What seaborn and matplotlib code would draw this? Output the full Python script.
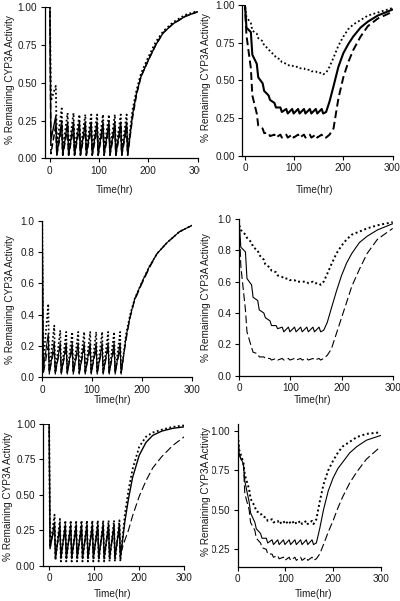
import matplotlib
matplotlib.use("Agg")
import matplotlib.pyplot as plt
from matplotlib.transforms import Bbox, TransformedBbox
import seaborn as sns

sns.set_style("ticks")
plt.rcParams["font.family"] = ["Liberation Sans", "DejaVu Sans"]

# ---------------- data ----------------
SAW_TIMES = [0, 2, 12, 14, 24, 26, 36, 38, 48, 50, 60, 62, 72, 74, 84, 86, 96, 98,
             108, 110, 120, 122, 132, 134, 144, 146, 156, 158]
REC_TIMES = [168, 176, 185, 200, 215, 230, 250, 275, 300]

p1_dot = [1.0, 0.38, 0.48, 0.08, 0.33, 0.06, 0.30, 0.05, 0.30, 0.05, 0.29, 0.05, 0.29, 0.05,
          0.29, 0.05, 0.29, 0.05, 0.29, 0.05, 0.29, 0.05, 0.29, 0.05, 0.29, 0.05, 0.29, 0.05,
          0.32, 0.45, 0.56, 0.67, 0.77, 0.84, 0.90, 0.95, 0.975]
p1_sol = [1.0, 0.12, 0.28, 0.02, 0.25, 0.02, 0.24, 0.02, 0.24, 0.02, 0.24, 0.02, 0.24, 0.02,
          0.24, 0.02, 0.24, 0.02, 0.24, 0.02, 0.24, 0.02, 0.24, 0.02, 0.24, 0.02, 0.24, 0.02,
          0.29, 0.43, 0.54, 0.65, 0.75, 0.83, 0.89, 0.94, 0.97]
p1_das = [1.0, 0.03, 0.22, 0.02, 0.21, 0.02, 0.20, 0.02, 0.20, 0.02, 0.20, 0.02, 0.20, 0.02,
          0.20, 0.02, 0.20, 0.02, 0.20, 0.02, 0.20, 0.02, 0.20, 0.02, 0.20, 0.02, 0.20, 0.02,
          0.27, 0.42, 0.54, 0.65, 0.75, 0.83, 0.89, 0.94, 0.97]

p3_dot = [1.0, 0.10, 0.47, 0.04, 0.33, 0.03, 0.30, 0.03, 0.29, 0.03, 0.29, 0.03, 0.29, 0.03,
          0.29, 0.03, 0.29, 0.03, 0.29, 0.03, 0.29, 0.03, 0.29, 0.03, 0.29, 0.03, 0.29, 0.03,
          0.28, 0.40, 0.50, 0.61, 0.71, 0.79, 0.86, 0.93, 0.97]
p3_sol = [1.0, 0.05, 0.28, 0.02, 0.23, 0.02, 0.22, 0.02, 0.22, 0.02, 0.22, 0.02, 0.22, 0.02,
          0.22, 0.02, 0.22, 0.02, 0.22, 0.02, 0.22, 0.02, 0.22, 0.02, 0.22, 0.02, 0.22, 0.02,
          0.26, 0.39, 0.50, 0.61, 0.71, 0.79, 0.86, 0.93, 0.97]
p3_das = [1.0, 0.02, 0.20, 0.03, 0.18, 0.03, 0.18, 0.03, 0.18, 0.03, 0.18, 0.03, 0.18, 0.03,
          0.18, 0.03, 0.18, 0.03, 0.18, 0.03, 0.18, 0.03, 0.18, 0.03, 0.18, 0.03, 0.18, 0.03,
          0.24, 0.38, 0.49, 0.60, 0.70, 0.79, 0.86, 0.93, 0.97]

p5_dot = [1.0, 0.13, 0.36, 0.04, 0.33, 0.03, 0.32, 0.03, 0.32, 0.03, 0.32, 0.03, 0.32, 0.03,
          0.32, 0.03, 0.32, 0.03, 0.32, 0.03, 0.32, 0.03, 0.32, 0.03, 0.32, 0.03, 0.32, 0.03,
          0.36, 0.53, 0.68, 0.84, 0.91, 0.94, 0.96, 0.98, 0.99]
p5_sol = [1.0, 0.12, 0.30, 0.05, 0.29, 0.05, 0.29, 0.05, 0.29, 0.05, 0.29, 0.05, 0.29, 0.05,
          0.29, 0.05, 0.29, 0.05, 0.29, 0.05, 0.29, 0.05, 0.29, 0.05, 0.29, 0.05, 0.29, 0.05,
          0.31, 0.47, 0.62, 0.78, 0.87, 0.92, 0.95, 0.97, 0.98]
p5_das = [1.0, 0.14, 0.26, 0.08, 0.25, 0.08, 0.25, 0.08, 0.25, 0.08, 0.25, 0.08, 0.25, 0.08,
          0.25, 0.08, 0.25, 0.08, 0.25, 0.08, 0.25, 0.08, 0.25, 0.08, 0.25, 0.08, 0.25, 0.08,
          0.18, 0.25, 0.35, 0.49, 0.60, 0.69, 0.77, 0.85, 0.91]

R_TIMES = [0, 3, 12, 15, 24, 27, 36, 39, 48, 51, 60, 63, 72, 75, 84, 87, 96, 99, 108, 111,
           120, 123, 132, 135, 144, 147, 156, 159, 165, 172, 180, 190, 200, 210, 220, 235,
           250, 270, 300]

p2_sol = [1.0, 0.85, 0.82, 0.67, 0.61, 0.52, 0.48, 0.43, 0.40, 0.37, 0.35, 0.32, 0.32, 0.29,
          0.31, 0.28, 0.31, 0.28, 0.31, 0.28, 0.31, 0.28, 0.31, 0.28, 0.31, 0.28, 0.31, 0.28,
          0.29, 0.36, 0.46, 0.59, 0.68, 0.74, 0.79, 0.85, 0.89, 0.93, 0.97]
p2_dot = [1.0, 0.92, 0.88, 0.83, 0.81, 0.78, 0.76, 0.73, 0.71, 0.69, 0.67, 0.65, 0.64, 0.62,
          0.61, 0.60, 0.60, 0.59, 0.59, 0.58, 0.58, 0.57, 0.57, 0.56, 0.56, 0.55, 0.55, 0.54,
          0.55, 0.59, 0.65, 0.73, 0.79, 0.84, 0.87, 0.90, 0.93, 0.95, 0.98]
p2_das = [1.0, 0.80, 0.58, 0.40, 0.28, 0.20, 0.18, 0.15, 0.15, 0.13, 0.14, 0.12, 0.14, 0.12,
          0.14, 0.12, 0.14, 0.12, 0.14, 0.12, 0.14, 0.12, 0.14, 0.12, 0.14, 0.12, 0.14, 0.12,
          0.12, 0.14, 0.18, 0.38, 0.52, 0.62, 0.70, 0.79, 0.86, 0.91, 0.955]

p4_sol = [0.97, 0.82, 0.79, 0.62, 0.58, 0.50, 0.48, 0.42, 0.40, 0.37, 0.35, 0.32, 0.32, 0.30,
          0.31, 0.28, 0.31, 0.28, 0.31, 0.28, 0.31, 0.28, 0.31, 0.28, 0.31, 0.28, 0.31, 0.28,
          0.29, 0.34, 0.43, 0.54, 0.64, 0.72, 0.78, 0.85, 0.89, 0.93, 0.97]
p4_dot = [0.96, 0.93, 0.90, 0.88, 0.85, 0.82, 0.80, 0.77, 0.74, 0.71, 0.69, 0.67, 0.66, 0.64,
          0.63, 0.62, 0.62, 0.61, 0.61, 0.60, 0.60, 0.60, 0.60, 0.59, 0.60, 0.59, 0.59, 0.58,
          0.60, 0.65, 0.71, 0.78, 0.83, 0.87, 0.90, 0.92, 0.94, 0.96, 0.98]
p4_das = [0.95, 0.70, 0.42, 0.28, 0.18, 0.15, 0.14, 0.12, 0.12, 0.11, 0.11, 0.10, 0.11, 0.10,
          0.11, 0.10, 0.11, 0.10, 0.11, 0.10, 0.11, 0.10, 0.11, 0.10, 0.11, 0.10, 0.11, 0.10,
          0.11, 0.13, 0.17, 0.27, 0.37, 0.47, 0.57, 0.68, 0.78, 0.87, 0.94]

p6_sol = [1.0, 0.85, 0.79, 0.68, 0.55, 0.48, 0.42, 0.38, 0.35, 0.32, 0.32, 0.29, 0.31, 0.28,
          0.31, 0.28, 0.31, 0.28, 0.31, 0.28, 0.31, 0.28, 0.31, 0.28, 0.31, 0.28, 0.31, 0.28,
          0.29, 0.38, 0.50, 0.62, 0.70, 0.76, 0.80, 0.86, 0.90, 0.94, 0.97]
p6_dot = [1.0, 0.88, 0.80, 0.72, 0.63, 0.57, 0.52, 0.49, 0.48, 0.46, 0.45, 0.43, 0.44, 0.42,
          0.43, 0.41, 0.43, 0.41, 0.43, 0.41, 0.43, 0.41, 0.43, 0.41, 0.43, 0.41, 0.43, 0.41,
          0.44, 0.55, 0.66, 0.75, 0.81, 0.86, 0.90, 0.93, 0.96, 0.98, 0.99]
p6_das = [1.0, 0.85, 0.78, 0.60, 0.50, 0.42, 0.37, 0.32, 0.29, 0.26, 0.25, 0.22, 0.22, 0.20,
          0.21, 0.19, 0.20, 0.18, 0.20, 0.18, 0.20, 0.18, 0.20, 0.18, 0.20, 0.18, 0.20, 0.18,
          0.19, 0.22, 0.28, 0.36, 0.43, 0.51, 0.58, 0.67, 0.74, 0.82, 0.90]

Y_LABEL = "% Remaining CYP3A Activity"
X_LABEL = "Time(hr)"
X_TICKS = [0, 100, 200, 300]
Y_TICKS_A = [0.0, 0.25, 0.5, 0.75, 1.0]
Y_TICKS_B = [0.0, 0.2, 0.4, 0.6, 0.8, 1.0]
Y_TICKS_C = [0.25, 0.5, 0.75, 1.0]

# ---------------- figure ----------------
W, H = 400, 601
fig = plt.figure(figsize=(W / 100, H / 100), dpi=100)

DOT = (0, (1.0, 1.4))
DASH = (0, (4, 2))
LDASH = (0, (7, 3))
FS = 7.2

panels = [
    dict(rect=(45, 197.5, 7.3, 158.3), xlim=(-10, 300), ylim=(0, 1), yt=Y_TICKS_A, fmt="{:.2f}",
         t=[-10] + SAW_TIMES + REC_TIMES,
         series=[([1.0] + p1_dot, DOT, 1.3), ([1.0] + p1_das, DASH, 1.1), ([1.0] + p1_sol, "-", 1.0)],
         xl=(114, 190), yl=(10, 80), clip=(0, 200)),
    dict(rect=(242.5, 392.5, 5, 155.7), xlim=(-5, 300), ylim=(0, 1), yt=Y_TICKS_A, fmt="{:.2f}",
         t=[-5] + R_TIMES,
         series=[([1.0] + p2_dot, DOT, 1.3), ([1.0] + p2_das, DASH, 1.4), ([1.0] + p2_sol, "-", 1.5)],
         xl=(314.5, 190), yl=(206, 78), clip=(200, 400)),
    dict(rect=(42.3, 192, 220.7, 377.3), xlim=(0, 300), ylim=(0, 1), yt=Y_TICKS_B, fmt="{:.1f}",
         t=SAW_TIMES + REC_TIMES,
         series=[(p3_dot, DOT, 1.2), (p3_das, LDASH, 0.8), (p3_sol, "-", 0.8)],
         xl=(112, 400), yl=(10, 300), clip=(0, 200)),
    dict(rect=(239.3, 392.7, 219, 375.7), xlim=(0, 300), ylim=(0, 1), yt=Y_TICKS_B, fmt="{:.1f}",
         t=R_TIMES,
         series=[(p4_dot, DOT, 1.4), (p4_das, LDASH, 0.8), (p4_sol, "-", 0.8)],
         xl=(312, 400), yl=(206, 298), clip=(200, 400)),
    dict(rect=(43.3, 184.3, 424, 565.7), xlim=(-13, 300), ylim=(0, 1), yt=Y_TICKS_A, fmt="{:.2f}",
         t=[-13] + SAW_TIMES + REC_TIMES,
         series=[([1.0] + p5_dot, DOT, 1.3), ([1.0] + p5_das, LDASH, 0.8), ([1.0] + p5_sol, "-", 1.0)],
         xl=(112, 594), yl=(8, 497), clip=(0, 200)),
    dict(rect=(237.7, 380.7, 424.4, 566.7), xlim=(0, 300), ylim=(0.14, 1.04), yt=Y_TICKS_C, fmt="{:.2f}",
         t=R_TIMES,
         series=[(p6_dot, DOT, 1.4), (p6_das, LDASH, 0.8), (p6_sol, "-", 0.8)],
         xl=(313, 594), yl=(206, 492), clip=(200, 400), tickclip=(212, 400)),
]

TXT = "#1a1a1a"
axes = []
for p in panels:
    x0, x1, yt, yb = p["rect"]
    ax = fig.add_axes([x0 / W, 1 - yb / H, (x1 - x0) / W, (yb - yt) / H])
    for vals, ls, lw in p["series"]:
        sns.lineplot(x=p["t"], y=vals, ax=ax, color="black", linestyle=ls, linewidth=lw,
                     estimator=None, sort=False)
    ax.set_xlim(*p["xlim"])
    ax.set_ylim(*p["ylim"])
    ax.set_xticks(X_TICKS)
    ax.set_yticks(p["yt"])
    ax.set_yticklabels([p["fmt"].format(v) for v in p["yt"]])
    ax.tick_params(direction="out", length=3, width=0.8, pad=2.5, labelsize=FS,
                   colors="black", labelcolor=TXT)
    sns.despine(ax=ax)
    for s in ("left", "bottom"):
        ax.spines[s].set_linewidth(0.9)
        ax.spines[s].set_color("black")
    ax.patch.set_alpha(0)
    ax.set_xlabel(X_LABEL, fontsize=FS, color=TXT)
    ax.set_ylabel(Y_LABEL, fontsize=FS, color=TXT)
    xlx, xly = p["xl"]
    ax.xaxis.set_label_coords((xlx - x0) / (x1 - x0), (yb - xly) / (yb - yt))
    ax.xaxis.label.set_va("center")
    ylx, yly = p["yl"]
    ax.yaxis.set_label_coords((ylx - x0) / (x1 - x0), (yb - yly) / (yb - yt))
    ax.yaxis.label.set_va("center")
    axes.append(ax)

fig.canvas.draw()

for ax, p in zip(axes, panels):
    c0, c1 = p["clip"]
    box = TransformedBbox(Bbox([[c0 / W, 0], [c1 / W, 1]]), fig.transFigure)
    tc0, tc1 = p.get("tickclip", p["clip"])
    tbox = TransformedBbox(Bbox([[tc0 / W, 0], [tc1 / W, 1]]), fig.transFigure)
    for lab in (ax.xaxis.label, ax.yaxis.label):
        lab.set_clip_box(box)
        lab.set_clip_on(True)
    for lab in ax.get_xticklabels():
        lab.set_clip_box(box)
        lab.set_clip_on(True)
    for lab in ax.get_yticklabels():
        lab.set_clip_box(tbox)
        lab.set_clip_on(True)

fig.savefig("out.png", dpi=100, facecolor="white")
